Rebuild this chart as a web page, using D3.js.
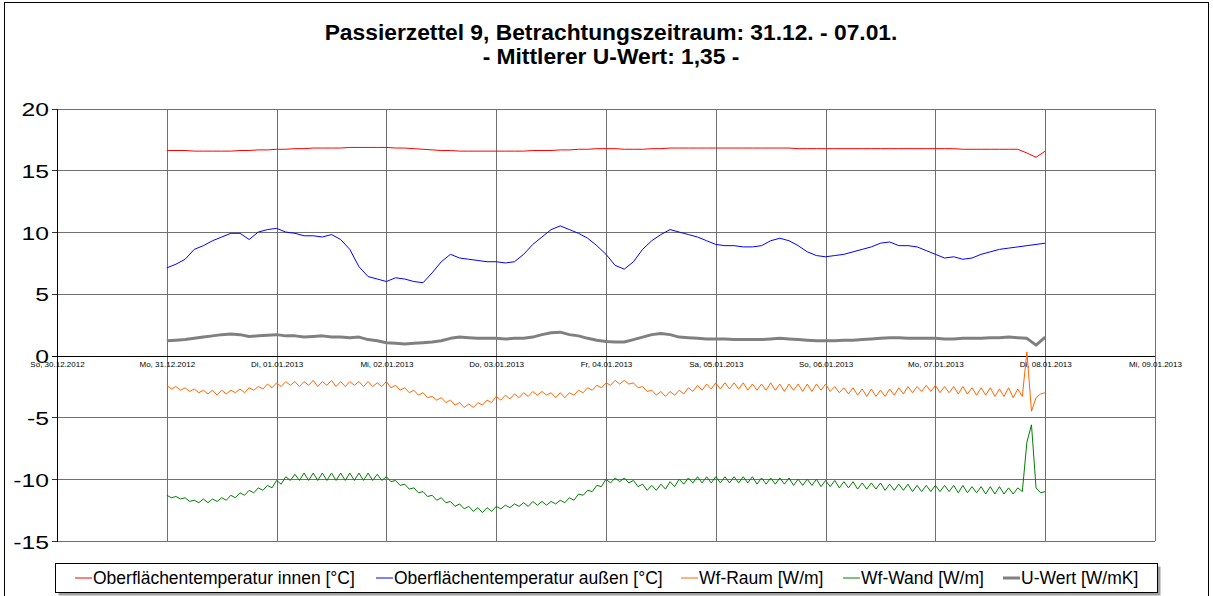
<!DOCTYPE html>
<html>
<head>
<meta charset="utf-8">
<title>Passierzettel 9</title>
<style>
  body { margin: 0; background: #fff; }
  svg { font-family: "Liberation Sans", Arial, sans-serif; }
</style>
</head>
<body>
<script src="https://cdn.jsdelivr.net/npm/d3@7"></script>
<script>
var width = 1213, height = 596;

// x axis: one tick per day, labels as printed
var dayLabels = ["So, 30.12.2012", "Mo, 31.12.2012", "Di, 01.01.2013", "Mi, 02.01.2013",
  "Do, 03.01.2013", "Fr, 04.01.2013", "Sa, 05.01.2013", "So, 06.01.2013",
  "Mo, 07.01.2013", "Di, 08.01.2013", "Mi, 09.01.2013"];
var yTicks = [-15, -10, -5, 0, 5, 10, 15, 20];

var titleLines = ["Passierzettel 9, Betrachtungszeitraum: 31.12. - 07.01.", "- Mittlerer U-Wert: 1,35 -"];
var legendNames = ["Oberflächentemperatur innen [°C]", "Oberflächentemperatur außen [°C]",
  "Wf-Raum [W/m]", "Wf-Wand [W/m]", "U-Wert [W/mK]"];

// measurements start Mo 31.12.2012 00:00
// Oberflächentemperatur innen, every 2 h
var innen = [
  16.6, 16.6, 16.6, 16.55, 16.55, 16.55, 16.55, 16.55, 16.6, 16.6, 16.65, 16.65,
  16.7, 16.7, 16.75, 16.75, 16.8, 16.8, 16.8, 16.8, 16.85, 16.85, 16.85, 16.85,
  16.85, 16.8, 16.8, 16.75, 16.7, 16.65, 16.6, 16.6, 16.55, 16.55, 16.55, 16.55,
  16.55, 16.55, 16.55, 16.55, 16.6, 16.6, 16.6, 16.65, 16.65, 16.7, 16.7, 16.75,
  16.75, 16.75, 16.7, 16.7, 16.7, 16.75, 16.75, 16.8, 16.8, 16.8, 16.8, 16.8,
  16.8, 16.8, 16.8, 16.8, 16.8, 16.8, 16.8, 16.8, 16.8, 16.75, 16.75, 16.75,
  16.75, 16.75, 16.75, 16.75, 16.75, 16.75, 16.75, 16.75, 16.75, 16.75, 16.75, 16.75,
  16.75, 16.75, 16.75, 16.7, 16.7, 16.7, 16.7, 16.7, 16.7, 16.7, 16.4, 16.05,
  16.55
];

// Oberflächentemperatur außen, every 2 h
var aussen = [
  7.1, 7.4, 7.8, 8.6, 8.9, 9.3, 9.6, 9.9, 9.9, 9.4, 10.0, 10.2,
  10.3, 10.0, 9.9, 9.7, 9.7, 9.6, 9.8, 9.4, 8.6, 7.2, 6.4, 6.2,
  6.0, 6.3, 6.2, 6.0, 5.9, 6.7, 7.6, 8.2, 7.9, 7.8, 7.7, 7.6,
  7.6, 7.5, 7.6, 8.2, 9.0, 9.6, 10.2, 10.5, 10.2, 9.9, 9.5, 8.9,
  8.2, 7.3, 7.0, 7.6, 8.6, 9.3, 9.8, 10.2, 10.0, 9.8, 9.6, 9.3,
  9.0, 8.9, 8.9, 8.8, 8.8, 8.9, 9.3, 9.5, 9.3, 8.9, 8.4, 8.1,
  8.0, 8.1, 8.2, 8.4, 8.6, 8.8, 9.1, 9.2, 8.9, 8.9, 8.8, 8.5,
  8.2, 7.9, 8.0, 7.8, 7.9, 8.2, 8.4, 8.6, 8.7, 8.8, 8.9, 9.0,
  9.1
];

// Wf-Raum, every hour
var wfRaum = [
  -2.4, -2.7, -2.5, -2.8, -2.6, -2.9, -2.7,
  -3.0, -2.8, -3.1, -2.8, -3.2, -2.8,
  -3.1, -2.8, -3.0, -2.7, -3.0, -2.6,
  -2.8, -2.5, -2.7, -2.3, -2.6, -2.2,
  -2.5, -2.1, -2.4, -2.1, -2.5, -2.1,
  -2.4, -2.0, -2.5, -2.1, -2.4, -2.0,
  -2.5, -2.1, -2.5, -2.1, -2.4, -2.1,
  -2.5, -2.1, -2.5, -2.2, -2.5, -2.1,
  -2.6, -2.4, -2.8, -2.6, -3.0, -2.8,
  -3.2, -3.0, -3.4, -3.3, -3.6, -3.4,
  -3.8, -3.6, -4.0, -3.8, -4.2, -3.9,
  -4.2, -3.8, -4.0, -3.6, -3.8, -3.3,
  -3.6, -3.2, -3.5, -3.1, -3.4, -3.0,
  -3.3, -2.9, -3.2, -2.9, -3.2, -3.0,
  -3.4, -3.0, -3.4, -3.0, -3.2, -2.8,
  -3.0, -2.6, -2.8, -2.4, -2.6, -2.2,
  -2.4, -2.0, -2.3, -2.0, -2.3, -2.2,
  -2.6, -2.5, -2.9, -2.8, -3.2, -2.9,
  -3.3, -2.9, -3.2, -2.8, -3.1, -2.6,
  -2.9, -2.4, -2.8, -2.3, -2.7, -2.2,
  -2.7, -2.2, -2.7, -2.2, -2.7, -2.2,
  -2.8, -2.3, -2.8, -2.3, -2.8, -2.2,
  -2.8, -2.3, -2.9, -2.3, -2.8, -2.3,
  -2.9, -2.3, -2.9, -2.3, -2.8, -2.3,
  -2.9, -2.5, -3.0, -2.6, -3.1, -2.6,
  -3.2, -2.7, -3.3, -2.7, -3.3, -2.8,
  -3.3, -2.7, -3.2, -2.6, -3.1, -2.5,
  -3.0, -2.5, -2.9, -2.4, -2.9, -2.4,
  -3.0, -2.5, -3.0, -2.5, -3.1, -2.5,
  -3.1, -2.6, -3.2, -2.6, -3.2, -2.6,
  -3.3, -2.7, -3.3, -2.6, -3.4, -2.7,
  -3.3, 0.3, -4.5, -3.4, -3.1, -3.0
];

// Wf-Wand, every hour
var wfWand = [
  -11.3, -11.5, -11.4, -11.6, -11.5, -11.8, -11.7,
  -11.9, -11.6, -11.9, -11.6, -11.8, -11.5,
  -11.7, -11.3, -11.5, -11.1, -11.3, -10.9,
  -11.1, -10.7, -10.9, -10.5, -10.7, -10.1,
  -10.4, -9.8, -10.1, -9.6, -10.1, -9.5,
  -10.1, -9.5, -10.1, -9.5, -10.1, -9.5,
  -10.1, -9.5, -10.1, -9.5, -10.1, -9.5,
  -10.1, -9.5, -10.1, -9.6, -10.1, -9.8,
  -10.2, -10.1, -10.5, -10.4, -10.8, -10.7,
  -11.1, -11.0, -11.4, -11.3, -11.7, -11.5,
  -11.9, -11.8, -12.2, -12.0, -12.4, -12.2,
  -12.6, -12.3, -12.7, -12.3, -12.6, -12.2,
  -12.4, -12.1, -12.3, -12.0, -12.2, -11.9,
  -12.2, -11.8, -12.1, -11.8, -12.1, -11.8,
  -12.0, -11.7, -11.9, -11.5, -11.7, -11.2,
  -11.3, -10.9, -11.0, -10.5, -10.6, -10.0,
  -10.3, -9.9, -10.2, -9.9, -10.3, -10.1,
  -10.6, -10.4, -10.9, -10.5, -10.9, -10.4,
  -10.8, -10.2, -10.6, -10.0, -10.4, -9.9,
  -10.3, -9.8, -10.3, -9.8, -10.3, -9.8,
  -10.3, -9.8, -10.3, -9.8, -10.3, -9.8,
  -10.3, -9.8, -10.4, -9.9, -10.4, -9.9,
  -10.4, -9.9, -10.4, -9.9, -10.5, -10.0,
  -10.5, -10.0, -10.5, -10.0, -10.6, -10.1,
  -10.6, -10.1, -10.7, -10.2, -10.7, -10.2,
  -10.8, -10.3, -10.8, -10.3, -10.8, -10.3,
  -10.9, -10.4, -10.9, -10.4, -10.9, -10.4,
  -11.0, -10.5, -11.0, -10.5, -11.0, -10.5,
  -11.0, -10.5, -11.0, -10.5, -11.1, -10.5,
  -11.1, -10.6, -11.1, -10.6, -11.2, -10.6,
  -11.2, -10.6, -11.2, -10.7, -11.2, -10.7,
  -11.0, -7.0, -5.6, -10.7, -11.1, -11.0
];

// U-Wert, every 2 h
var uWert = [
  1.2, 1.25, 1.3, 1.4, 1.5, 1.6, 1.7, 1.75, 1.7, 1.55, 1.6, 1.65,
  1.7, 1.6, 1.6, 1.5, 1.55, 1.6, 1.5, 1.5, 1.45, 1.5, 1.3, 1.2,
  1.05, 1.0, 0.95, 1.0, 1.05, 1.1, 1.2, 1.4, 1.5, 1.45, 1.4, 1.4,
  1.4, 1.35, 1.4, 1.4, 1.5, 1.7, 1.85, 1.9, 1.7, 1.6, 1.4, 1.25,
  1.15, 1.1, 1.1, 1.3, 1.5, 1.7, 1.8, 1.7, 1.5, 1.45, 1.4, 1.35,
  1.35, 1.35, 1.3, 1.3, 1.3, 1.3, 1.35, 1.4, 1.35, 1.3, 1.25, 1.2,
  1.2, 1.2, 1.25, 1.25, 1.3, 1.35, 1.4, 1.45, 1.45, 1.4, 1.4, 1.4,
  1.4, 1.35, 1.35, 1.4, 1.4, 1.4, 1.45, 1.45, 1.5, 1.45, 1.4, 0.85,
  1.5
];

var seriesValues = [innen, aussen, wfRaum, wfWand, uWert];
var seriesStepHours = [2, 2, 1, 1, 2];
var seriesColors = ["#ff0000", "#0000ff", "#ff6600", "#008000", "#808080"];
var seriesWidths = [1, 1, 1, 1, 3];

var start = new Date(2012, 11, 31, 0, 0);
var firstDay = new Date(2012, 11, 30), lastDay = new Date(2013, 0, 9);
var days = d3.timeDay.range(firstDay, d3.timeDay.offset(lastDay, 1));

// plot area
var plotLeft = 57, plotRight = 1155, plotTop = 108.5, plotBottom = 541;

var x = d3.scaleTime().domain([firstDay, lastDay]).range([plotLeft, plotRight]);
var y = d3.scaleLinear().domain([-15, 20]).range([plotBottom, plotTop]);

var svg = d3.select("body").append("svg")
    .attr("width", width)
    .attr("height", height);

svg.append("rect")
    .attr("width", width).attr("height", height)
    .attr("fill", "#fff");

// outer chart border
svg.append("rect")
    .attr("x", 4.5).attr("y", 2.5)
    .attr("width", 1204).attr("height", 620)
    .attr("fill", "none")
    .attr("stroke", "#000");

// title
svg.selectAll(".title").data(titleLines)
  .enter().append("text")
    .attr("class", "title")
    .attr("x", 611)
    .attr("y", function(d, i) { return 40 + i * 24; })
    .attr("text-anchor", "middle")
    .attr("font-size", 22.8)
    .attr("font-weight", "bold")
    .text(function(d) { return d; });

// horizontal grid
var hGrid = svg.append("g")
    .attr("transform", "translate(" + plotLeft + ",0)")
    .call(d3.axisLeft(y).tickValues(yTicks.filter(function(v) { return v !== 0; }))
      .tickSize(-(plotRight - plotLeft)).tickFormat(""));
hGrid.select(".domain").remove();
hGrid.selectAll("line").attr("stroke", "#707070").attr("shape-rendering", "crispEdges");

// vertical grid (days)
var vGrid = svg.append("g")
    .attr("transform", "translate(0," + plotBottom + ")")
    .call(d3.axisBottom(x).tickValues(days.slice(1)).tickSize(-(plotBottom - plotTop)).tickFormat(""));
vGrid.select(".domain").remove();
vGrid.selectAll("line").attr("stroke", "#707070").attr("shape-rendering", "crispEdges");

// y axis
var yAxis = svg.append("g")
    .attr("transform", "translate(" + plotLeft + ",0)")
    .call(d3.axisLeft(y).tickValues(yTicks).tickSize(5).tickFormat(d3.format("d")));
yAxis.select(".domain").attr("stroke", "#000").attr("shape-rendering", "crispEdges");
yAxis.selectAll("line").attr("stroke", "#333").attr("shape-rendering", "crispEdges");
yAxis.selectAll("text")
    .attr("x", null).attr("dy", null)
    .attr("font-size", 19)
    .attr("fill", "#000")
    .attr("font-family", "'Liberation Sans', Arial, sans-serif")
    .attr("transform", "translate(-8,7) scale(1.3,1)")
    .text(function(d) { return String(d); });

// zero line with date labels
var xAxis = svg.append("g")
    .attr("transform", "translate(0," + y(0) + ")")
    .call(d3.axisBottom(x).tickValues(days).tickSize(0).tickPadding(6)
      .tickFormat(function(d, i) { return dayLabels[i]; }));
xAxis.select(".domain").attr("stroke", "#000").attr("d", "M" + (plotLeft - 5) + ",0.5H" + plotRight)
    .attr("shape-rendering", "crispEdges");
xAxis.selectAll("text")
    .attr("font-size", 8)
    .attr("fill", "#000")
    .attr("font-family", "'Liberation Sans', Arial, sans-serif");

// series
var line = d3.line()
    .x(function(d) { return x(d.t); })
    .y(function(d) { return y(d.v); });

seriesValues.forEach(function(vals, k) {
  var pts = vals.map(function(v, i) {
    return { t: new Date(start.getTime() + i * seriesStepHours[k] * 3600e3), v: v };
  });
  svg.append("path")
      .datum(pts)
      .attr("fill", "none")
      .attr("stroke", seriesColors[k])
      .attr("stroke-width", seriesWidths[k])
      .attr("stroke-linejoin", "round")
      .attr("d", line);
});

// legend
var legendX = [75, 376, 681, 843, 1003];
var legend = svg.append("g");
legend.append("rect")
    .attr("x", 58.5).attr("y", 566.5)
    .attr("width", 1102).attr("height", 29)
    .attr("fill", "#a0a0a0");
legend.append("rect")
    .attr("x", 55.5).attr("y", 563.5)
    .attr("width", 1102).attr("height", 29)
    .attr("fill", "#fff")
    .attr("stroke", "#000");

var items = legend.selectAll(".item").data(legendNames)
  .enter().append("g")
    .attr("class", "item")
    .attr("transform", function(d, i) { return "translate(" + legendX[i] + ",578)"; });
items.append("line")
    .attr("x1", 0).attr("x2", 17)
    .attr("stroke", function(d, i) { return seriesColors[i]; })
    .attr("stroke-width", function(d, i) { return seriesWidths[i]; });
items.append("text")
    .attr("x", 18).attr("y", 6.3)
    .attr("font-size", 17.5)
    .text(function(d) { return d; });
</script>
</body>
</html>
